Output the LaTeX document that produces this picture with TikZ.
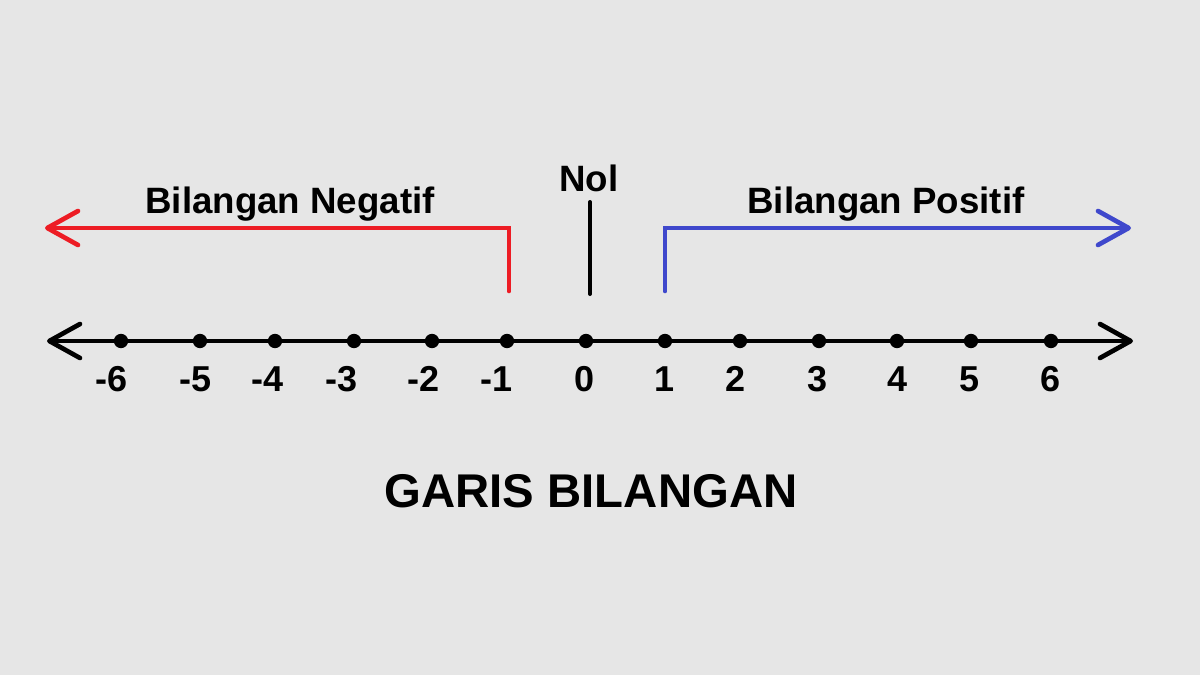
\documentclass[tikz,border=0pt]{standalone}
\usepackage{fontspec}
\setmainfont{Liberation Sans}
\usepackage{tikz}
\usetikzlibrary{arrows.meta,positioning,calc}

\definecolor{bgGray}{HTML}{E6E6E6}
\definecolor{negRed}{HTML}{ED1C24}
\definecolor{posBlue}{HTML}{3F48CC}

\tikzset{
  dot/.style={circle,fill=black,inner sep=0pt,minimum size=10.75pt},
  numlabel/.style={anchor=base,inner sep=0pt,font=\fontsize{27}{32}\selectfont\bfseries},
  title/.style={anchor=base,inner sep=0pt,font=\fontsize{27.5}{33}\selectfont\bfseries},
  barb/.tip={Straight Barb[length=23pt,width=25.5pt,round]},
  numline/.style={line width=3.5pt,line cap=round}
}

\begin{document}
\begin{tikzpicture}[x=0.75pt,y=-0.75pt]
        \useasboundingbox[fill=bgGray] (0,0) rectangle (1200,675);

        % Axis end points
        \coordinate (axisL) at (47,341);
        \coordinate (axisR) at (1133,341);

        % Number line
        \draw[numline,barb-barb] (axisL) -- (axisR);

        % Dots on the number line
        \node[dot] (dm6) at (121,341) {};
        \node[dot] (dm5) at (200,341) {};
        \node[dot] (dm4) at (275,341) {};
        \node[dot] (dm3) at (354,341) {};
        \node[dot] (dm2) at (432,341) {};
        \node[dot] (dm1) at (507,341) {};
        \node[dot] (d0) at (586,341) {};
        \node[dot] (d1) at (665,341) {};
        \node[dot] (d2) at (740,341) {};
        \node[dot] (d3) at (819,341) {};
        \node[dot] (d4) at (897,341) {};
        \node[dot] (d5) at (971,341) {};
        \node[dot] (d6) at (1051,341) {};

        % Number labels
        \node[numlabel] (lm6) at (112,391) {-6};
        \node[numlabel] (lm5) at (196,391) {-5};
        \node[numlabel] (lm4) at (268,391) {-4};
        \node[numlabel] (lm3) at (342,391) {-3};
        \node[numlabel] (lm2) at (424,391) {-2};
        \node[numlabel] (lm1) at (497,391) {-1};
        \node[numlabel] (l0) at (585,391) {0};
        \node[numlabel] (l1) at (665,391) {1};
        \node[numlabel] (l2) at (736,391) {2};
        \node[numlabel] (l3) at (818,391) {3};
        \node[numlabel] (l4) at (898,391) {4};
        \node[numlabel] (l5) at (970,391) {5};
        \node[numlabel] (l6) at (1050,391) {6};

        % Zero mark
        \node[title] (nol) at (589,191) {Nol};
        \coordinate (zeroTop) at (590,202);
        \coordinate (zeroBot) at (590,294);
        \draw[numline,line width=3pt] (zeroTop) -- (zeroBot);

        % Negative side
        \node[title] (negText) at (290,213) {Bilangan Negatif};
        \coordinate (negStart) at (509,291);
        \coordinate (negEnd) at (45,228);
        \draw[numline,negRed,line join=miter,-barb] (negStart) |- (negEnd);

        % Positive side
        \node[title] (posText) at (886,213) {Bilangan Positif};
        \coordinate (posStart) at (665,291);
        \coordinate (posEnd) at (1131,228);
        \draw[numline,posBlue,line join=miter,-barb] (posStart) |- (posEnd);

        % Caption
        \node[anchor=base,inner sep=0pt,font=\fontsize{35.5}{40}\selectfont\bfseries] (caption) at (591,507) {GARIS BILANGAN};
\end{tikzpicture}
\end{document}
